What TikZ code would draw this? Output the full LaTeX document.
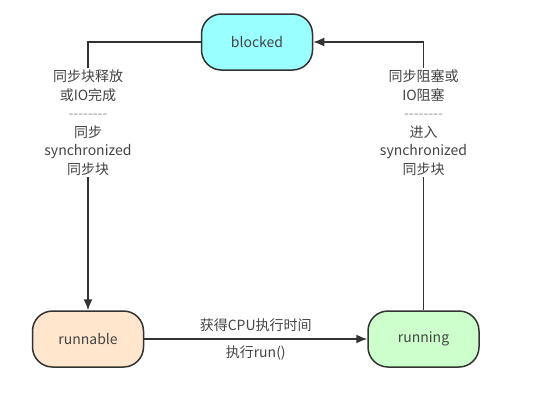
\documentclass[tikz,border=0pt]{standalone}
\usepackage{fontspec}
\setmainfont{Noto Sans CJK SC}
\usepackage{xcolor}
\usetikzlibrary{positioning,arrows.meta}

\definecolor{linegray}{HTML}{333333}
\definecolor{textgray}{HTML}{444444}
\definecolor{dashgray}{HTML}{999999}
\definecolor{blockedfill}{HTML}{99FFFF}
\definecolor{runnablefill}{HTML}{FFE6CC}
\definecolor{runningfill}{HTML}{CCFFCC}

\newcommand{\dashrow}{\textcolor{dashgray}{-{}-{}-{}-{}-{}-{}-{}-}}

\begin{document}
\begin{tikzpicture}[
  x=1pt, y=1pt,
  font=\fontsize{14}{18.5}\selectfont,
  state/.style={draw=linegray, line width=1.5pt, rounded corners=20pt, text=textgray, align=center, minimum width=111pt, minimum height=56pt},
  note/.style={fill=white, text=textgray, align=center, inner sep=2pt},
  arrow/.style={-{Latex[length=11pt, width=9pt]}, draw=linegray, line width=1.5pt}
]
\useasboundingbox (0,0) rectangle (546,-416);

\node[state, fill=runnablefill] (runnable) at (88,-339) {runnable};
\node[state, fill=runningfill, right=223pt of runnable] (running) {running};
\node[state, fill=blockedfill] (blocked) at (257,-42) {blocked};

\draw[arrow] (runnable) -- node[above=3pt, text=textgray]{获得CPU执行时间} node[below=3pt, text=textgray]{执行run()} (running);
\draw[arrow] (blocked.west) -| node[note, pos=0.65]{同步块释放\\或IO完成\\\dashrow\\同步\\synchronized\\同步块} (runnable.north);
\draw[arrow] (running.north) |- node[note, pos=0.35]{同步阻塞或\\IO阻塞\\\dashrow\\进入\\synchronized\\同步块} (blocked.east);

\end{tikzpicture}
\end{document}
